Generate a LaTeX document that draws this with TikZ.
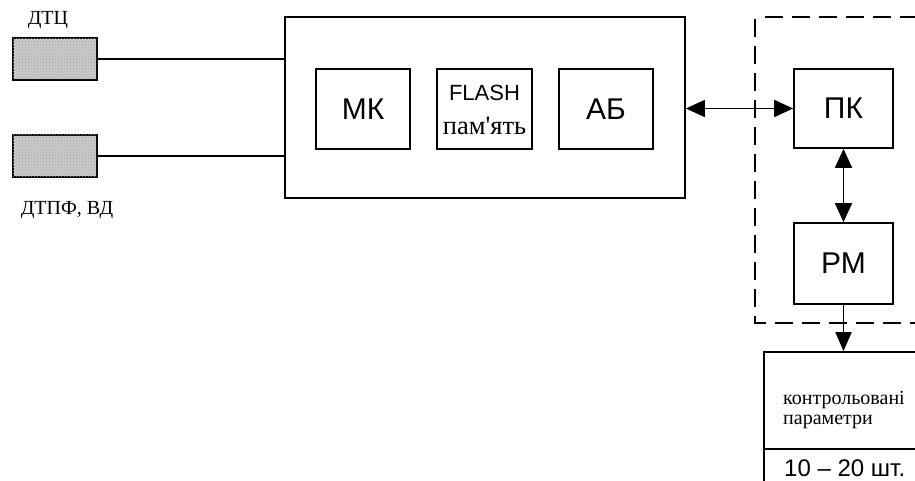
\documentclass[tikz,border=0pt]{standalone}
\usepackage{fontspec}
\setmainfont{Liberation Serif}
\newfontfamily\arialfont{Liberation Sans}
\usetikzlibrary{arrows.meta,patterns}
\tikzset{
  unit/.style={draw, line width=1.7pt, inner sep=0pt, align=center},
  sensor/.style={draw, line width=1.9pt, fill=black!20, inner sep=0pt,
    minimum width=84pt, minimum height=42pt,
    postaction={pattern=crosshatch dots, pattern color=black!40}},
  wire/.style={line width=1.5pt},
  duplex/.style={line width=1.8pt, {Triangle[length=19pt,width=17pt]}-{Triangle[length=19pt,width=17pt]}},
  simplex/.style={line width=1.8pt, -{Triangle[length=19pt,width=16pt]}},
  boundary/.style={line width=1.8pt, dash pattern=on 18pt off 9pt},
  sanslbl/.style={font=\arialfont\fontsize{30}{32}\selectfont},
  seriflbl/.style={font=\fontsize{20}{20}\selectfont, inner sep=0pt},
}
\begin{document}
\begin{tikzpicture}[x=1pt, y=-1pt]
  \useasboundingbox (0,0) rectangle (915,481);
  \clip (0,0) rectangle (915,481);
  \fill[white] (0,0) rectangle (915,481);

  % sensors
  \node[sensor] (dtc)  at (55,59)  {};
  \node[sensor] (dtpf) at (55,156) {};
  \node[seriflbl] (dtcl)  at (48,20)  {ДТЦ};
  \node[seriflbl] (dtpfl) at (67,210) {ДТПФ, ВД};

  % logger unit
  \node[unit, minimum width=400pt, minimum height=181pt] (logger) at (485,107.5) {};
  \node[unit, sanslbl, minimum width=94pt, minimum height=80pt] (mk) at (363,109) {МК};
  \node[unit, minimum width=95pt, minimum height=80pt] (flash) at (484.5,109) {};
  \node[font=\arialfont\fontsize{22}{22}\selectfont, inner sep=0pt] (flasht) at (484.5,93) {FLASH};
  \node[font=\fontsize{26.5}{26.5}\selectfont, inner sep=0pt] (flashm) at (484.5,126)
    {пам\textquotesingle ять};
  \node[unit, sanslbl, minimum width=94pt, minimum height=80pt] (ab) at (606,109) {АБ};

  \draw[wire] (dtc.east)  -- (dtc.east -| logger.west);
  \draw[wire] (dtpf.east) -- (dtpf.east -| logger.west);

  % operator side (dashed boundary, open to the right)
  \draw[boundary] (765,17) -- (940,17);
  \draw[boundary] (755,19) -- (755,323) -- (940,323);
  \node[unit, sanslbl, minimum width=99pt, minimum height=79pt] (pk) at (843.5,108.5) {ПК};
  \node[unit, sanslbl, minimum width=99pt, minimum height=81pt] (rm) at (843.5,263.5) {РМ};

  \draw[duplex] (pk.west -| logger.east) -- (pk.west);
  \draw[duplex] (pk.south) -- (rm.north);

  % monitored parameters
  \node[unit, minimum width=171pt, minimum height=97pt] (params) at (849.5,400.5) {};
  \node[unit, minimum width=171pt, minimum height=46pt] (count) at (849.5,472) {};
  \node[seriflbl, anchor=west, align=left] (paramtxt) at (783,410)
    {контрольовані\\параметри};
  \node[font=\arialfont\fontsize{24}{24}\selectfont, inner sep=0pt, anchor=west] (counttxt) at (784,468)
    {10 – 20 шт.};

  \draw[simplex] (rm.south) -- (params.north -| rm.south);
\end{tikzpicture}
\end{document}
